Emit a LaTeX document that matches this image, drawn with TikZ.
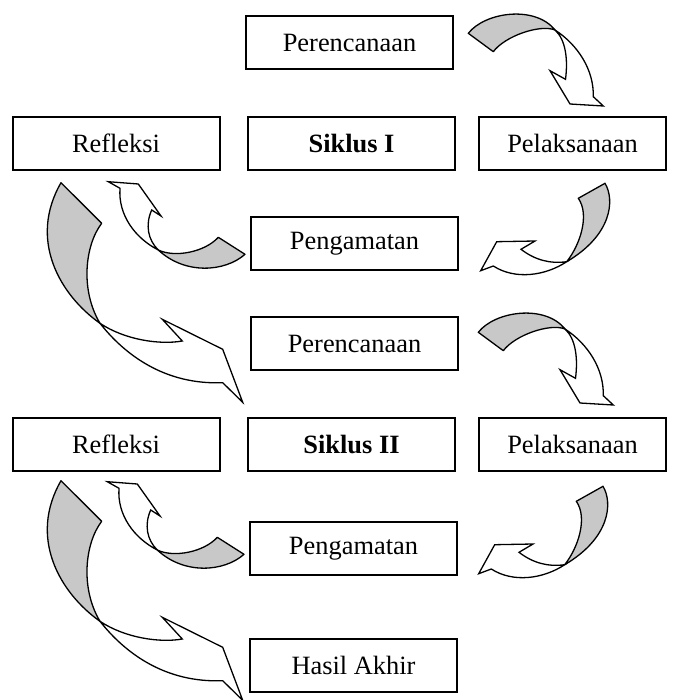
\documentclass[tikz,border=0pt]{standalone}
\usepackage{fontspec}
\setmainfont{Liberation Serif}
\definecolor{shade}{RGB}{200,200,200}
\tikzset{
  box/.style={draw, line width=1pt, inner sep=0pt, minimum width=103.5pt, minimum height=26.5pt, font=\fontsize{13.2}{15}\selectfont},
  narrowbox/.style={box, minimum width=93.5pt},
  greypart/.style={fill=shade, draw=black, line width=0.65pt, line join=round},
  whitepart/.style={fill=white, draw=black, line width=0.65pt, line join=miter},
  arrowA/.pic={
    \filldraw[greypart] (468.3,33.3) .. controls (485,12) and (535,5) .. (555,30) .. controls (540,24) and (505,36) .. (493.3,51.7) -- cycle;
    \filldraw[whitepart] (555,30) .. controls (578,45) and (594,70) .. (593.3,96.7) -- (603.3,106) -- (570,104) -- (550,70.7) -- (565.5,79.3) .. controls (568,60) and (566,40) .. (555,30) -- cycle;
  },
  arrowB/.pic={
    \filldraw[greypart] (578.3,198.3) -- (605,183.3) .. controls (615,200) and (612,235) .. (566.7,261.7) .. controls (580,245) and (590,215) .. (578.3,198.3) -- cycle;
    \filldraw[whitepart] (566.7,261.7) .. controls (545,276) and (515,280) .. (493.3,266) -- (480.7,270.7) -- (496.7,241.7) -- (535,241) -- (521,249.3) .. controls (535,260) and (550,264) .. (566.7,261.7) -- cycle;
  },
  arrowC/.pic={
    \filldraw[greypart] (218.3,237.3) -- (245,254.3) .. controls (225,272) and (185,275) .. (158.3,250) .. controls (175,258) and (205,252) .. (218.3,237.3) -- cycle;
    \filldraw[whitepart] (158.3,250) .. controls (135,238) and (118,215) .. (120,188.3) -- (108.3,181.7) -- (138.3,184) -- (161,216) -- (151.7,210) .. controls (145,225) and (148,240) .. (158.3,250) -- cycle;
  },
  arrowD/.pic={
    \filldraw[greypart] (61,182.7) -- (101.7,223.3) .. controls (85,245) and (80,290) .. (100,323.3) .. controls (60,295) and (28,240) .. (61,182.7) -- cycle;
    \filldraw[whitepart] (100,323.3) .. controls (125,355) and (165,385) .. (222.7,382.7) -- (242.7,402.3) -- (222.7,349.3) -- (162.3,319.3) -- (182.3,341) .. controls (160,345) and (125,340) .. (100,323.3) -- cycle;
  }
}
\begin{document}
\begin{tikzpicture}[x=0.5pt, y=-0.5pt]
\useasboundingbox[fill=white] (0,0) rectangle (676,700);

% boxes
\node[box] (per1) at (349.5,42.5) {Perencanaan};
\node[box] (ref1) at (116,143.5) {Refleksi};
\node[box] (sik1) at (351.5,143.5) {\bfseries Siklus I};
\node[narrowbox] (pel1) at (572.5,143.5) {Pelaksanaan};
\node[box] (pen1) at (354.5,243.5) {Pengamatan};
\node[box] (per2) at (354.5,343.5) {Perencanaan};
\node[box] (ref2) at (116,444.5) {Refleksi};
\node[box] (sik2) at (351.5,444.5) {\bfseries Siklus II};
\node[narrowbox] (pel2) at (572.5,444.5) {Pelaksanaan};
\node[box] (pen2) at (353.5,548.5) {Pengamatan};
\node[box] (has) at (353.5,665) {Hasil Akhir};

% curved block arrows, cycle I
\pic at (0,0) {arrowA};
\pic at (0,0) {arrowB};
\pic at (0,0) {arrowC};
\pic at (0,0) {arrowD};

% cycle II
\pic at (10,299) {arrowA};
\pic at (-2,303) {arrowB};
\pic at (-1,300) {arrowC};
\pic at (0,298) {arrowD};
\end{tikzpicture}
\end{document}
